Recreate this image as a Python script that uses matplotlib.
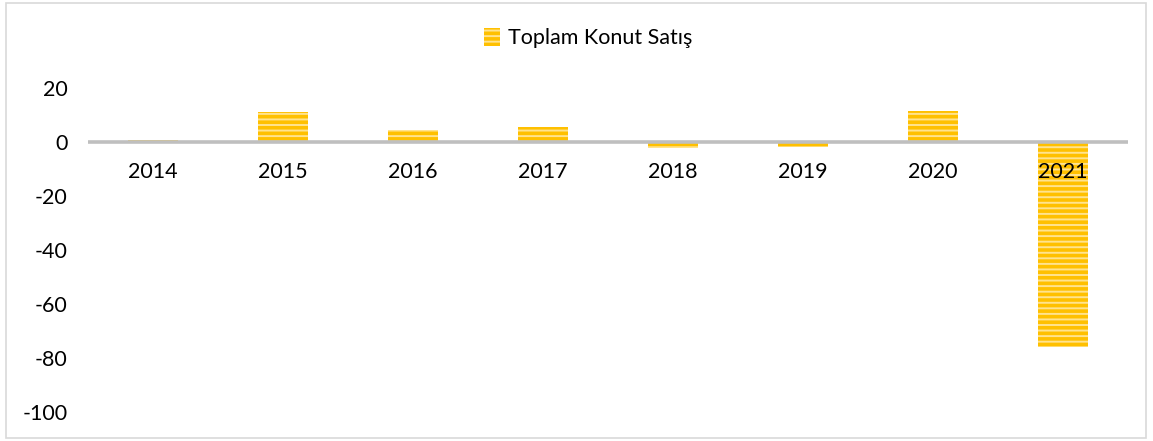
import matplotlib
matplotlib.use("Agg")
import matplotlib.pyplot as plt
from matplotlib.patches import Rectangle

years = ["2014", "2015", "2016", "2017", "2018", "2019", "2020", "2021"]
values = [0.8, 11.1, 4.5, 5.5, -2.4, -2.0, 11.3, -75.8]
series_name = "Toplam Konut Satış"
yticks = [-100, -80, -60, -40, -20, 0, 20]

plt.rcParams['font.family'] = ['Lato', 'DejaVu Sans']
plt.rcParams['hatch.linewidth'] = 1.4

FS = 15.5
W, H = 1153, 441
fig = plt.figure(figsize=(W / 100, H / 100), dpi=100)
fig.patches.append(Rectangle((6 / W, 3 / H), (1146 - 6) / W, (438 - 3) / H,
                             transform=fig.transFigure, fill=False,
                             edgecolor='#D9D9D9', linewidth=1.2))

ax = fig.add_axes([88 / W, 1 - 412 / H, (1128 - 88) / W, (412 - 88) / H])
x = list(range(len(years)))
bars = ax.bar(x, values, width=0.385, color='#FFC000', edgecolor='#FFE38F',
              linewidth=0, hatch='---', label=series_name, zorder=2)

ax.axhline(0, color='#BFBFBF', linewidth=2.6, zorder=3)
ax.set_xlim(-0.5, len(years) - 0.5)
ax.set_ylim(-100, 20)
ax.set_yticks(yticks)
ax.set_yticklabels([str(v) for v in yticks], fontsize=FS, color='#000000')
ax.tick_params(axis='y', length=0, pad=14.5)
ax.set_xticks([])
for s in ax.spines.values():
    s.set_visible(False)

for xi, lab in zip(x, years):
    ax.annotate(lab, (xi, 0), xytext=(0, -30 * 0.72), textcoords='offset points',
                ha='center', va='center', fontsize=FS, color='#000000', zorder=4)

fig.legend(handles=[bars], labels=[series_name], loc='center',
           bbox_to_anchor=(588 / W, 1 - 38 / H), frameon=False, fontsize=FS,
           handlelength=0.75, handleheight=0.9, handletextpad=0.35)

fig.savefig("out.png", dpi=100)
